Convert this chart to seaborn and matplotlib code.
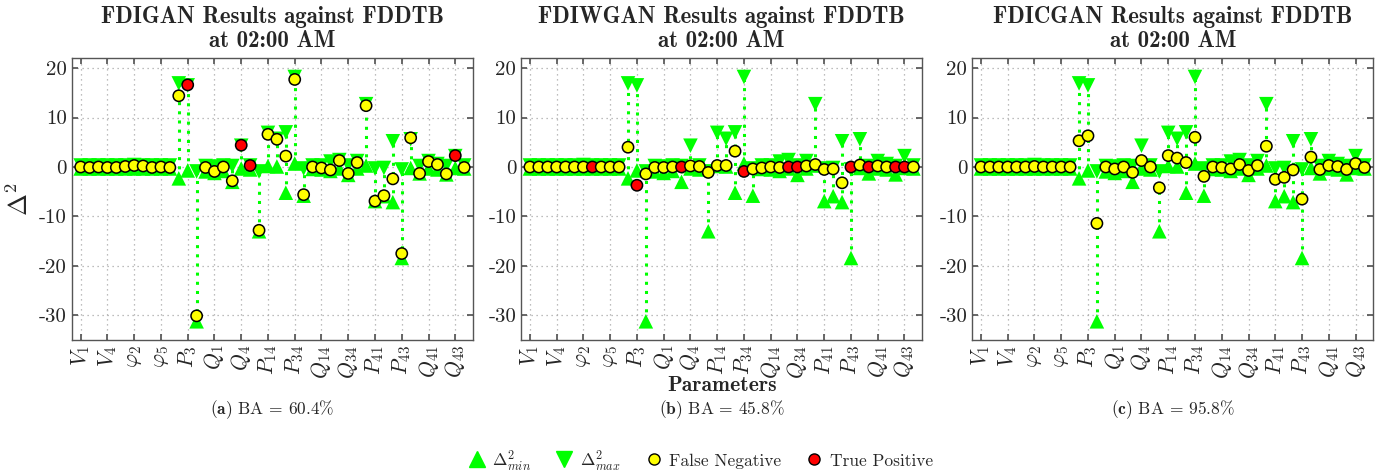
import numpy as np
import pandas as pd
import seaborn as sns
import matplotlib.pyplot as plt
from matplotlib.lines import Line2D

sns.set_theme(style="ticks")
plt.rcParams['font.family'] = ['cmr10', 'DejaVu Serif']
plt.rcParams['mathtext.fontset'] = 'cm'
plt.rcParams['axes.unicode_minus'] = False
plt.rcParams['axes.formatter.use_mathtext'] = False

# parameter names (every third one gets a tick label)
params = [r'$V_{1}$', r'$V_{2}$', r'$V_{3}$', r'$V_{4}$', r'$V_{5}$',
          r'$\varphi_{1}$', r'$\varphi_{2}$', r'$\varphi_{3}$', r'$\varphi_{4}$', r'$\varphi_{5}$',
          r'$P_{1}$', r'$P_{2}$', r'$P_{3}$', r'$P_{4}$', r'$P_{5}$',
          r'$Q_{1}$', r'$Q_{2}$', r'$Q_{3}$', r'$Q_{4}$', r'$Q_{5}$',
          r'$P_{12}$', r'$P_{14}$', r'$P_{23}$', r'$P_{25}$', r'$P_{34}$', r'$P_{45}$',
          r'$Q_{12}$', r'$Q_{14}$', r'$Q_{23}$', r'$Q_{25}$', r'$Q_{34}$', r'$Q_{45}$',
          r'$P_{21}$', r'$P_{41}$', r'$P_{32}$', r'$P_{52}$', r'$P_{43}$', r'$P_{54}$',
          r'$Q_{21}$', r'$Q_{41}$', r'$Q_{32}$', r'$Q_{52}$', r'$Q_{43}$', r'$Q_{54}$']

delta_min = [-0.3, -0.3, -0.3, -0.3, -0.3, -0.3, -0.3, -0.3, -0.3, -0.3, -0.3,
             -2.3, -0.7, -31.2, -0.9, -1.2, -0.8, -3.0, -0.3, -0.5,
             -13.0, 0.2, 0.1, -5.2, 0.7, -5.8, -0.4, -0.5, -0.8, -0.3,
             -1.6, -0.3, 0.3, -6.9, -5.9, -7.1, -18.4, -0.2, -1.3, -0.3,
             -0.5, -1.5, -0.2, -0.3]
delta_max = [0.3, 0.3, 0.3, 0.3, 0.3, 0.3, 0.4, 0.3, 0.3, 0.3, 0.3,
             16.9, 16.5, -0.9, 0.2, 0.1, 0.3, 0.2, 4.3, 0.3,
             -0.9, 6.9, 5.7, 7.0, 18.2, -0.3, 0.3, 0.3, 1.1, 1.4,
             0.3, 1.2, 12.7, -0.3, -0.2, 5.2, -0.5, 5.6, 0.2, 1.2,
             0.6, 0.2, 2.2, 0.3]

est_a = [0.0, -0.1, 0.0, -0.1, -0.1, 0.1, 0.3, 0.2, -0.1, 0.0, -0.1,
         14.4, 16.6, -30.1, -0.1, -0.9, 0.0, -2.8, 4.4, 0.3,
         -12.8, 6.6, 5.6, 2.2, 17.7, -5.6, 0.0, -0.2, -0.6, 1.3,
         -1.3, 0.9, 12.4, -6.9, -5.8, -2.4, -17.5, 5.9, -1.3, 1.1,
         0.5, -1.4, 2.3, -0.1]
est_b = [0.0, 0.0, 0.0, 0.0, 0.0, 0.0, 0.0, 0.0, 0.0, 0.0, 0.0,
         4.0, -3.7, -1.4, -0.1, -0.1, 0.0, 0.0, 0.2, 0.1,
         -1.1, 0.3, 0.3, 3.2, -0.9, -0.4, -0.2, 0.0, -0.1, 0.0,
         0.0, 0.2, 0.5, -0.5, -0.4, -3.2, 0.0, 0.4, 0.0, 0.2,
         0.0, 0.0, 0.0, 0.0]
est_c = [0.0, 0.0, 0.0, 0.0, 0.0, 0.0, 0.1, 0.0, 0.0, 0.0, 0.0,
         5.3, 6.3, -11.4, 0.0, -0.4, 0.0, -1.1, 1.3, 0.0,
         -4.2, 2.3, 1.8, 0.9, 6.0, -1.9, 0.0, -0.1, -0.4, 0.5,
         -0.7, 0.3, 4.2, -2.5, -2.1, -0.6, -6.5, 2.0, -0.5, 0.3,
         0.1, -0.5, 0.7, -0.1]

# indices flagged as true positives
tp_a = [12, 18, 19, 42]
tp_b = [7, 12, 17, 24, 29, 30, 36, 38, 41, 42]
tp_c = []

titles = ["FDIGAN Results against FDDTB\nat 02:00 AM",
          "FDIWGAN Results against FDDTB\nat 02:00 AM",
          "FDICGAN Results against FDDTB\nat 02:00 AM"]
captions = [r"$\mathbf{(a)}$ BA = 60.4%",
            r"$\mathbf{(b)}$ BA = 45.8%",
            r"$\mathbf{(c)}$ BA = 95.8%"]

green = '#00ff00'
palette = {'False Negative': '#ffff00', 'True Positive': '#ff0000'}

fig = plt.figure(figsize=(13.96, 4.73), dpi=100)
lefts = [0.0514, 0.3732, 0.6963]
axes = [fig.add_axes([l, 0.281, 0.2875, 0.596]) for l in lefts]

x = np.arange(len(params))

for ax, est, tp, title, cap in zip(axes, [est_a, est_b, est_c], [tp_a, tp_b, tp_c], titles, captions):
    df = pd.DataFrame({'idx': x, 'est': est, 'lo': delta_min, 'hi': delta_max})
    df['status'] = np.where(df['idx'].isin(tp), 'True Positive', 'False Negative')

    ax.vlines(df['idx'], df['lo'], df['hi'], colors=green, linestyles=(0, (1, 2)), lw=2.2, zorder=1)
    sns.scatterplot(data=df, x='idx', y='lo', marker='^', color=green, s=110,
                    edgecolor='none', ax=ax, zorder=2, legend=False)
    sns.scatterplot(data=df, x='idx', y='hi', marker='v', color=green, s=110,
                    edgecolor='none', ax=ax, zorder=2, legend=False)
    sns.scatterplot(data=df, x='idx', y='est', hue='status', palette=palette, s=66,
                    edgecolor='black', linewidth=1.1, ax=ax, zorder=3, legend=False)

    ax.set_xlim(-1, 44)
    ax.set_ylim(-35, 22)
    ax.set_xticks(x[::3])
    ax.set_xticklabels(params[::3], rotation=90, fontsize=15.5)
    ax.set_yticks([-30, -20, -10, 0, 10, 20])
    ax.tick_params(axis='y', labelsize=15)
    ax.tick_params(direction='in', top=True, right=True, length=4, color='#555555')
    ax.grid(True, ls=(0, (1, 3)), color='#a8a8a8', lw=0.9)
    ax.set_xlabel('')
    ax.set_ylabel('')
    for sp in ax.spines.values():
        sp.set_color('#555555')
        sp.set_linewidth(1.0)
    ax.set_title(title, fontfamily='cmb10', fontsize=16.5, linespacing=1.15, pad=8)

    pos = ax.get_position()
    fig.text(pos.x0 + pos.width / 2, 0.133, cap, fontsize=12.5, ha='center', va='center')

axes[0].set_ylabel(r'$\Delta^2$', fontsize=19, labelpad=4)
fig.text(axes[1].get_position().x0 + axes[1].get_position().width / 2, 0.186,
         'Parameters', fontfamily='cmb10', fontsize=15.5, ha='center', va='center')

handles = [Line2D([], [], marker='^', ls='none', color=green, markersize=11, label=r'$\Delta^2_{min}$'),
           Line2D([], [], marker='v', ls='none', color=green, markersize=11, label=r'$\Delta^2_{max}$'),
           Line2D([], [], marker='o', ls='none', markerfacecolor='#ffff00', markeredgecolor='black',
                  markersize=8, label='False Negative'),
           Line2D([], [], marker='o', ls='none', markerfacecolor='#ff0000', markeredgecolor='black',
                  markersize=8, label='True Positive')]
fig.legend(handles=handles, loc='center', bbox_to_anchor=(0.5, 0.027), ncol=4, frameon=False,
           fontsize=12.5, handletextpad=0.1, columnspacing=1.1, handlelength=1.6)

fig.savefig('out.png', dpi=100)
